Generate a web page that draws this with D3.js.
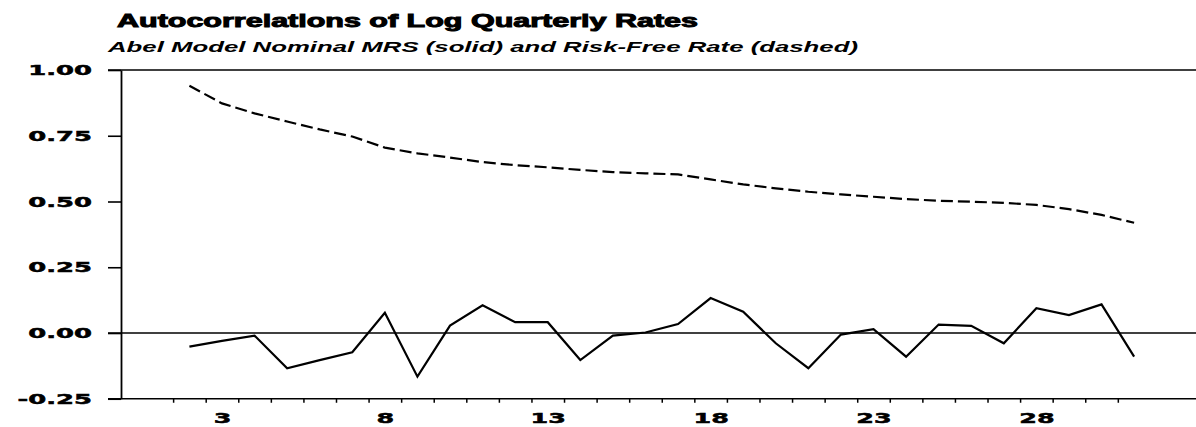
<!DOCTYPE html>
<html>
<head>
<meta charset="utf-8">
<script src="https://cdn.jsdelivr.net/npm/d3@7"></script>
<style>
  body { margin: 0; background: #fff; }
  svg { display: block; }
  text { fill: #000; }
</style>
</head>
<body>
<svg id="chart" width="1196" height="427"></svg>
<script>
// Autocorrelations at lags 2..31
const lags = d3.range(2, 32);
// Abel model nominal MRS (solid line)
const mrsAcf = [-0.052, -0.030, -0.010, -0.134, -0.103, -0.073, 0.077, -0.166, 0.028, 0.105,
                0.041, 0.041, -0.103, -0.010, 0.002, 0.034, 0.133, 0.081, -0.039, -0.134,
                -0.006, 0.015, -0.090, 0.032, 0.027, -0.039, 0.094, 0.068, 0.109, -0.090];
// Risk-free rate (dashed line)
const rfAcf = [0.940, 0.873, 0.835, 0.804, 0.774, 0.747, 0.705, 0.683, 0.667, 0.650,
               0.638, 0.630, 0.620, 0.612, 0.607, 0.603, 0.584, 0.565, 0.550, 0.537,
               0.527, 0.518, 0.509, 0.503, 0.499, 0.495, 0.487, 0.471, 0.449, 0.419];
const yTicks = [-0.25, 0.00, 0.25, 0.50, 0.75, 1.00];
const yRules = [1.00, 0.00, -0.25];
const xLabelTicks = [3, 8, 13, 18, 23, 28];
const xMinorTicks = d3.range(1.5, 31, 1);

const titleText = "Autocorrelations of Log Quarterly Rates";
const subtitleText = "Abel Model Nominal MRS (solid) and Risk-Free Rate (dashed)";

const W = 1196, H = 427;
const svg = d3.select("#chart");
const fontFamily = "'DejaVu Sans', 'Liberation Sans', sans-serif";
const headFamily = "'Liberation Sans', Arial, sans-serif";

const x = d3.scaleLinear().domain([-0.1, 32.9]).range([121, 1196]);
const y = d3.scaleLinear().domain([-0.25, 1.0]).range([398.75, 70]);

// widen text glyphs horizontally by a factor
function widen(sel, factor) {
  sel.each(function () {
    const w = this.getComputedTextLength();
    d3.select(this).attr("textLength", w * factor).attr("lengthAdjust", "spacingAndGlyphs");
  });
}

// Title and subtitle
svg.append("text")
  .attr("x", 117).attr("y", 27)
  .attr("font-family", headFamily).attr("font-weight", "bold").attr("font-size", 19)
  .attr("stroke", "#000").attr("stroke-width", 1.0)
  .attr("textLength", 581).attr("lengthAdjust", "spacingAndGlyphs")
  .text(titleText);

svg.append("text")
  .attr("x", 108).attr("y", 52)
  .attr("font-family", headFamily).attr("font-style", "italic").attr("font-weight", "bold")
  .attr("font-size", 15.5)
  .attr("textLength", 750).attr("lengthAdjust", "spacingAndGlyphs")
  .text(subtitleText);

// Horizontal rules: top frame, zero line, bottom axis
svg.append("g").selectAll("line").data(yRules).join("line")
  .attr("x1", 108).attr("x2", W)
  .attr("y1", d => y(d)).attr("y2", d => y(d))
  .attr("stroke", "#000").attr("stroke-width", 1.6);

// Y axis
const yAxis = svg.append("g")
  .attr("transform", "translate(121,0)")
  .call(d3.axisLeft(y).tickValues(yTicks).tickSize(13).tickSizeOuter(0).tickPadding(16)
    .tickFormat(d => d.toFixed(2)));
yAxis.select(".domain").attr("stroke", "#000").attr("stroke-width", 1.8);
yAxis.selectAll(".tick line").attr("stroke", "#000").attr("stroke-width", 1.6);
yAxis.selectAll(".tick text")
  .attr("font-family", fontFamily).attr("font-weight", "bold").attr("font-size", 14.5)
  .attr("fill", "#000").attr("stroke", "#000").attr("stroke-width", 0.5)
  .call(widen, 1.78);

// X axis minor ticks
const xAxis = svg.append("g")
  .attr("transform", `translate(0,${y(-0.25)})`)
  .call(d3.axisBottom(x).tickValues(xMinorTicks).tickSize(4).tickSizeOuter(0).tickFormat(""));
xAxis.select(".domain").remove();
xAxis.selectAll(".tick line").attr("stroke", "#000").attr("stroke-width", 1.5);

// X axis labels
const xLab = svg.append("g")
  .attr("transform", `translate(0,${y(-0.25)})`)
  .call(d3.axisBottom(x).tickValues(xLabelTicks).tickSize(0).tickFormat(d3.format("d")));
xLab.select(".domain").remove();
xLab.selectAll(".tick text")
  .attr("y", 24.5).attr("dy", null)
  .attr("font-family", fontFamily).attr("font-weight", "bold").attr("font-size", 14.5)
  .attr("fill", "#000").attr("stroke", "#000").attr("stroke-width", 0.5)
  .call(widen, 1.75);

// Series lines
const line = d3.line().x(d => x(d[0])).y(d => y(d[1]));

svg.append("path")
  .datum(lags.map((l, i) => [l, rfAcf[i]]))
  .attr("d", line)
  .attr("fill", "none").attr("stroke", "#000").attr("stroke-width", 2.2)
  .attr("stroke-dasharray", "12,5");

svg.append("path")
  .datum(lags.map((l, i) => [l, mrsAcf[i]]))
  .attr("d", line)
  .attr("fill", "none").attr("stroke", "#000").attr("stroke-width", 2.2)
  .attr("stroke-linejoin", "miter");
</script>
</body>
</html>
